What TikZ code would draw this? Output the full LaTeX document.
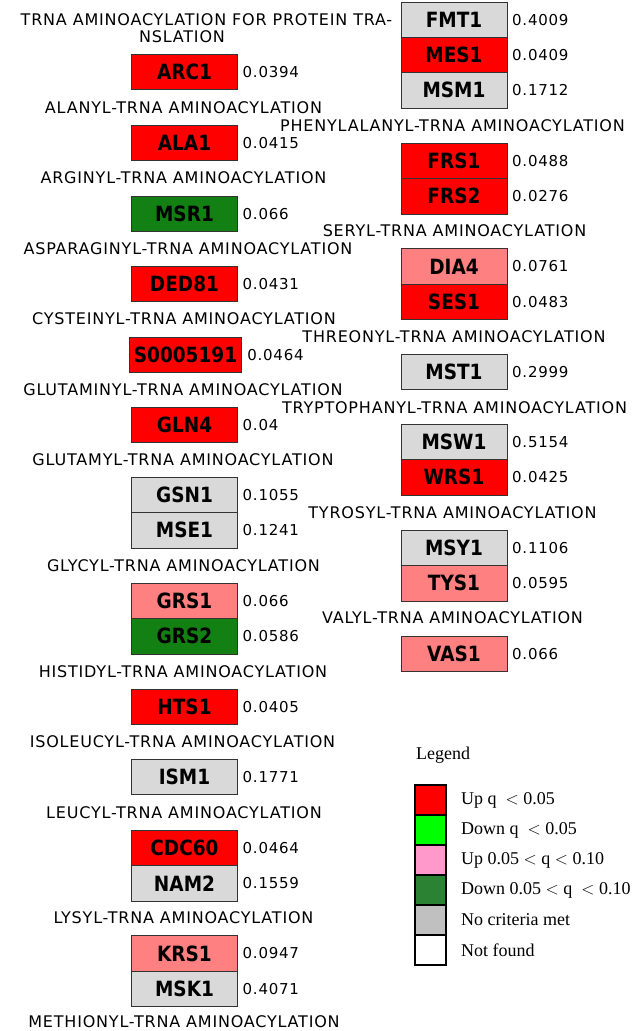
\documentclass[tikz,border=0pt]{standalone}
\usepackage{fontspec}
\setmainfont{Liberation Serif}
\newfontfamily\genefamily{DejaVu Sans}[FakeStretch=0.88]
\newfontfamily\procfamily{DejaVu Sans}[LetterSpace=5]
\newcommand\genefont{\genefamily\bfseries\fontsize{21}{21}\selectfont}
\newcommand\procfont{\procfamily\fontsize{16}{16}\selectfont}
\newcommand\valfont{\procfamily\fontsize{15}{15}\selectfont}
\newcommand\keyfont{\rmfamily\fontsize{18}{20}\selectfont}
\usetikzlibrary{positioning}
\definecolor{upred}{RGB}{255,0,0}
\definecolor{upsalmon}{RGB}{255,128,128}
\definecolor{dngreen}{RGB}{18,128,18}
\definecolor{nogray}{RGB}{217,217,217}
\definecolor{boxline}{RGB}{51,51,51}
\definecolor{keygreen}{RGB}{0,255,0}
\definecolor{keypink}{RGB}{255,153,204}
\definecolor{keydark}{RGB}{42,130,50}
\definecolor{keygray}{RGB}{192,192,192}

\begin{document}
\begin{tikzpicture}[x=1pt,y=-1pt,inner sep=0pt,
  gene/.style={draw=boxline,line width=0.8pt,inner xsep=4pt,minimum width=106pt,minimum height=35.3pt,outer sep=0pt,font=\genefont},
  qval/.style={font=\valfont},
  proc/.style={font=\procfont},
  key/.style={draw=black,line width=1.4pt,minimum width=31pt,minimum height=30pt,outer sep=0pt},
  keytext/.style={font=\keyfont}]

\useasboundingbox (0,0) rectangle (635,1031);

% left column
\node[proc] (t0a) at (206.5,20) {TRNA AMINOACYLATION FOR PROTEIN TRA-};
\node[proc] (t0b) at (182,37) {NSLATION};
\node[gene,fill=upred] (arc1) at (184.5,72) {ARC1};
\node[qval,right=5pt of arc1] (arc1q) {0.0394};

\node[proc] (t1) at (183.5,108) {ALANYL-TRNA AMINOACYLATION};
\node[gene,fill=upred] (ala1) at (184.5,143) {ALA1};
\node[qval,right=5pt of ala1] (ala1q) {0.0415};

\node[proc] (t2) at (183.5,178) {ARGINYL-TRNA AMINOACYLATION};
\node[gene,fill=dngreen] (msr1) at (184.5,214) {MSR1};
\node[qval,right=5pt of msr1] (msr1q) {0.066};

\node[proc] (t3) at (188,249) {ASPARAGINYL-TRNA AMINOACYLATION};
\node[gene,fill=upred] (ded81) at (184.5,284) {DED81};
\node[qval,right=5pt of ded81] (ded81q) {0.0431};

\node[proc] (t4) at (184,319) {CYSTEINYL-TRNA AMINOACYLATION};
\node[gene,fill=upred] (s0005191) at (185.5,355) {S0005191};
\node[qval,right=6pt of s0005191] (s0005191q) {0.0464};

\node[proc] (t5) at (183,390) {GLUTAMINYL-TRNA AMINOACYLATION};
\node[gene,fill=upred] (gln4) at (184.5,425) {GLN4};
\node[qval,right=5pt of gln4] (gln4q) {0.04};

\node[proc] (t6) at (183,460) {GLUTAMYL-TRNA AMINOACYLATION};
\node[gene,fill=nogray] (gsn1) at (184.5,495) {GSN1};
\node[gene,fill=nogray,below=0pt of gsn1] (mse1) {MSE1};
\node[qval,right=5pt of gsn1] (gsn1q) {0.1055};
\node[qval,right=5pt of mse1] (mse1q) {0.1241};

\node[proc] (t7) at (183.5,566) {GLYCYL-TRNA AMINOACYLATION};
\node[gene,fill=upsalmon] (grs1) at (184.5,601) {GRS1};
\node[gene,fill=dngreen,below=0pt of grs1] (grs2) {GRS2};
\node[qval,right=5pt of grs1] (grs1q) {0.066};
\node[qval,right=5pt of grs2] (grs2q) {0.0586};

\node[proc] (t8) at (183,672) {HISTIDYL-TRNA AMINOACYLATION};
\node[gene,fill=upred] (hts1) at (184.5,707) {HTS1};
\node[qval,right=5pt of hts1] (hts1q) {0.0405};

\node[proc] (t9) at (182.5,742) {ISOLEUCYL-TRNA AMINOACYLATION};
\node[gene,fill=nogray] (ism1) at (184.5,777) {ISM1};
\node[qval,right=5pt of ism1] (ism1q) {0.1771};

\node[proc] (t10) at (184,813) {LEUCYL-TRNA AMINOACYLATION};
\node[gene,fill=upred] (cdc60) at (184.5,848) {CDC60};
\node[gene,fill=nogray,below=0pt of cdc60] (nam2) {NAM2};
\node[qval,right=5pt of cdc60] (cdc60q) {0.0464};
\node[qval,right=5pt of nam2] (nam2q) {0.1559};

\node[proc] (t11) at (183.5,917.5) {LYSYL-TRNA AMINOACYLATION};
\node[gene,fill=upsalmon] (krs1) at (184.5,953.5) {KRS1};
\node[gene,fill=nogray,below=0pt of krs1] (msk1) {MSK1};
\node[qval,right=5pt of krs1] (krs1q) {0.0947};
\node[qval,right=5pt of msk1] (msk1q) {0.4071};

\node[proc] (t12) at (184,1022) {METHIONYL-TRNA AMINOACYLATION};

% right column
\node[gene,fill=nogray] (fmt1) at (454,19.7) {FMT1};
\node[gene,fill=upred,below=0pt of fmt1] (mes1) {MES1};
\node[gene,fill=nogray,below=0pt of mes1] (msm1) {MSM1};
\node[qval,right=5pt of fmt1] (fmt1q) {0.4009};
\node[qval,right=5pt of mes1] (mes1q) {0.0409};
\node[qval,right=5pt of msm1] (msm1q) {0.1712};

\node[proc] (r1) at (452.5,125.5) {PHENYLALANYL-TRNA AMINOACYLATION};
\node[gene,fill=upred] (frs1) at (454,161) {FRS1};
\node[gene,fill=upred,below=0pt of frs1] (frs2) {FRS2};
\node[qval,right=5pt of frs1] (frs1q) {0.0488};
\node[qval,right=5pt of frs2] (frs2q) {0.0276};

\node[proc] (r2) at (454.5,231) {SERYL-TRNA AMINOACYLATION};
\node[gene,fill=upsalmon] (dia4) at (454,266.5) {DIA4};
\node[gene,fill=upred,below=0pt of dia4] (ses1) {SES1};
\node[qval,right=5pt of dia4] (dia4q) {0.0761};
\node[qval,right=5pt of ses1] (ses1q) {0.0483};

\node[proc] (r3) at (454,337) {THREONYL-TRNA AMINOACYLATION};
\node[gene,fill=nogray] (mst1) at (454,372) {MST1};
\node[qval,right=5pt of mst1] (mst1q) {0.2999};

\node[proc] (r4) at (454.5,408) {TRYPTOPHANYL-TRNA AMINOACYLATION};
\node[gene,fill=nogray] (msw1) at (454,442) {MSW1};
\node[gene,fill=upred,below=0pt of msw1] (wrs1) {WRS1};
\node[qval,right=5pt of msw1] (msw1q) {0.5154};
\node[qval,right=5pt of wrs1] (wrs1q) {0.0425};

\node[proc] (r5) at (452.5,513) {TYROSYL-TRNA AMINOACYLATION};
\node[gene,fill=nogray] (msy1) at (454,548) {MSY1};
\node[gene,fill=upsalmon,below=0pt of msy1] (tys1) {TYS1};
\node[qval,right=5pt of msy1] (msy1q) {0.1106};
\node[qval,right=5pt of tys1] (tys1q) {0.0595};

\node[proc] (r6) at (452.5,618) {VALYL-TRNA AMINOACYLATION};
\node[gene,fill=upsalmon] (vas1) at (454,654) {VAS1};
\node[qval,right=5pt of vas1] (vas1q) {0.066};

% legend
\node[keytext,anchor=base west] (legend) at (416,759) {Legend};
\node[key,fill=upred] (k1) at (430.5,800) {};
\node[key,fill=keygreen,below=0pt of k1] (k2) {};
\node[key,fill=keypink,below=0pt of k2] (k3) {};
\node[key,fill=keydark,below=0pt of k3] (k4) {};
\node[key,fill=keygray,below=0pt of k4] (k5) {};
\node[key,fill=white,below=0pt of k5] (k6) {};
\node[keytext,right=15pt of k1] (k1t) {Up q \ $<$ 0.05};
\node[keytext,right=15pt of k2] (k2t) {Down q \ $<$ 0.05};
\node[keytext,right=15pt of k3] (k3t) {Up 0.05 $<$ q $<$ 0.10};
\node[keytext,right=15pt of k4] (k4t) {Down 0.05 $<$ q \ $<$ 0.10};
\node[keytext,right=15pt of k5] (k5t) {No criteria met};
\node[keytext,right=15pt of k6] (k6t) {Not found};

\end{tikzpicture}
\end{document}
